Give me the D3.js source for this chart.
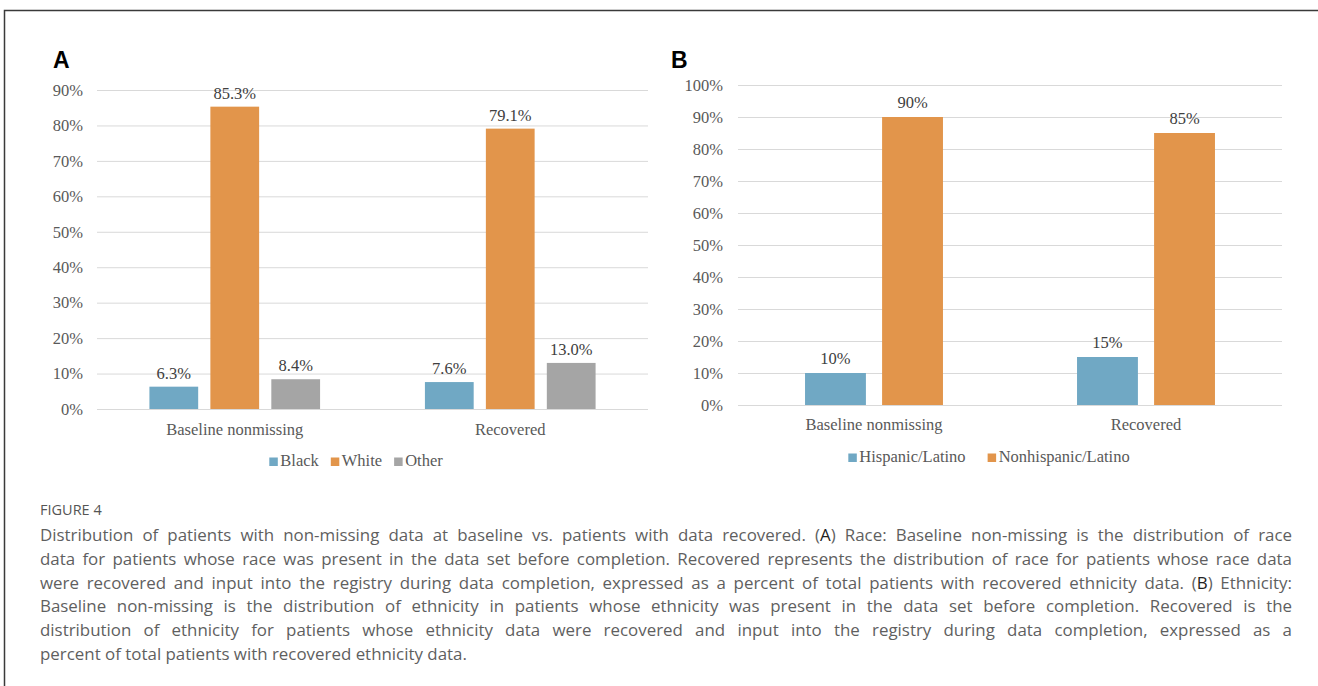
<!DOCTYPE html>
<html>
<head>
<meta charset="utf-8">
<script src="https://cdn.jsdelivr.net/npm/d3@7"></script>
<style>
  html, body { margin: 0; padding: 0; background: #fff; }
  svg { display: block; }
</style>
</head>
<body>
<svg id="fig" width="1318" height="686"></svg>
<script>
// ---- Panel A: race ----
const raceGroups = ["Baseline nonmissing", "Recovered"];
const raceSeries = ["Black", "White", "Other"];
const raceBlack = [0.063, 0.076];
const raceWhite = [0.853, 0.791];
const raceOther = [0.084, 0.130];
const raceTicks = [0, 0.1, 0.2, 0.3, 0.4, 0.5, 0.6, 0.7, 0.8, 0.9];

// ---- Panel B: ethnicity ----
const ethGroups = ["Baseline nonmissing", "Recovered"];
const ethSeries = ["Hispanic/Latino", "Nonhispanic/Latino"];
const ethHispanic = [0.10, 0.15];
const ethNonhispanic = [0.90, 0.85];
const ethTicks = [0, 0.1, 0.2, 0.3, 0.4, 0.5, 0.6, 0.7, 0.8, 0.9, 1.0];

const captionTitle = "FIGURE 4";
const captionLines = [
  "Distribution of patients with non-missing data at baseline vs. patients with data recovered. (|A|) Race: Baseline non-missing is the distribution of race",
  "data for patients whose race was present in the data set before completion. Recovered represents the distribution of race for patients whose race data",
  "were recovered and input into the registry during data completion, expressed as a percent of total patients with recovered ethnicity data. (|B|) Ethnicity:",
  "Baseline non-missing is the distribution of ethnicity in patients whose ethnicity was present in the data set before completion. Recovered is the",
  "distribution of ethnicity for patients whose ethnicity data were recovered and input into the registry during data completion, expressed as a",
  "percent of total patients with recovered ethnicity data."
];

const colors = { blue: "#70a8c4", orange: "#e2954b", gray: "#a5a5a5" };
const serif = "'Liberation Serif', 'Times New Roman', serif";
const sans = "'Liberation Sans', Arial, sans-serif";
const capFont = "'Open Sans', sans-serif";

const svg = d3.select("#fig");

// outer frame (top and left rules)
svg.append("path")
  .attr("d", "M4.5,686 V10.5 H1318")
  .attr("fill", "none").attr("stroke", "#3a3a3a").attr("stroke-width", 1.5);

function panel(opts) {
  const g = svg.append("g");
  const y = d3.scaleLinear().domain([0, opts.max]).range([opts.y0, opts.y1]);
  const x0 = d3.scaleBand().domain(opts.groups).range([opts.xl, opts.xr]);
  const x1 = d3.scaleBand().domain(opts.series).range([0, x0.bandwidth()])
    .paddingInner(opts.pi).paddingOuter(opts.po);
  const fmt = d3.format(".0%");

  // gridlines + y tick labels via axis
  const axis = d3.axisLeft(y).tickValues(opts.ticks).tickFormat(fmt)
    .tickSize(-(opts.xr - opts.xl)).tickPadding(opts.tickPad);
  const ag = g.append("g").attr("transform", `translate(${opts.xl},0)`).call(axis);
  ag.select(".domain").remove();
  ag.selectAll(".tick line").attr("stroke", "#d9d9d9").attr("stroke-width", 1);
  ag.selectAll(".tick text").attr("font-family", serif).attr("font-size", 16.5)
    .attr("fill", "#595959");

  // bars with value labels
  opts.series.forEach((s, si) => {
    const vals = opts.values[si];
    opts.groups.forEach((grp, gi) => {
      const v = vals[gi];
      const bx = x0(grp) + x1(s);
      g.append("rect")
        .attr("x", bx).attr("width", x1.bandwidth())
        .attr("y", y(v)).attr("height", y(0) - y(v))
        .attr("fill", opts.colors[si]);
      g.append("text")
        .attr("x", bx + x1.bandwidth() / 2).attr("y", y(v) - opts.labelGap)
        .attr("text-anchor", "middle")
        .attr("font-family", serif).attr("font-size", 16.5).attr("fill", "#404040")
        .text(d3.format(opts.labelFmt)(v));
    });
  });

  // category labels
  opts.groups.forEach(grp => {
    g.append("text")
      .attr("x", x0(grp) + x0.bandwidth() / 2).attr("y", opts.catY)
      .attr("text-anchor", "middle")
      .attr("font-family", serif).attr("font-size", 16.5).attr("fill", "#595959")
      .text(grp);
  });

  // legend
  const lg = g.append("g");
  let cx = 0;
  opts.series.forEach((s, si) => {
    lg.append("rect").attr("x", cx).attr("y", -8.5).attr("width", 8.5).attr("height", 8.5)
      .attr("fill", opts.colors[si]);
    const t = lg.append("text").attr("x", cx + 11).attr("y", 0)
      .attr("font-family", serif).attr("font-size", 16.5).attr("fill", "#595959")
      .text(s);
    cx += 11 + t.node().getComputedTextLength() + opts.legendGap;
  });
  const lw = cx - opts.legendGap;
  lg.attr("transform", `translate(${opts.legendCx - lw / 2},${opts.legendY})`);

  // panel letter
  g.append("text").attr("x", opts.letterX).attr("y", 68)
    .attr("font-family", sans).attr("font-weight", "bold").attr("font-size", 23)
    .attr("fill", "#000").text(opts.letter);
}

panel({
  letter: "A", letterX: 53,
  groups: raceGroups, series: raceSeries,
  values: [raceBlack, raceWhite, raceOther],
  colors: [colors.blue, colors.orange, colors.gray],
  ticks: raceTicks, max: 0.9, y0: 409, y1: 90,
  xl: 97, xr: 648, pi: 0.2, po: 0.86, tickPad: 14,
  labelGap: 8, labelFmt: ".1%",
  catY: 435, legendY: 466, legendCx: 356, legendGap: 12
});

panel({
  letter: "B", letterX: 671,
  groups: ethGroups, series: ethSeries,
  values: [ethHispanic, ethNonhispanic],
  colors: [colors.blue, colors.orange],
  ticks: ethTicks, max: 1.0, y0: 405, y1: 85,
  xl: 738, xr: 1282, pi: 0.21, po: 0.87, tickPad: 15,
  labelGap: 9, labelFmt: ".0%",
  catY: 430, legendY: 462, legendCx: 989, legendGap: 22
});

// caption
const cap = svg.append("g");
cap.append("text").attr("x", 40).attr("y", 515)
  .attr("font-family", capFont).attr("font-size", 14.5)
  .attr("fill", "#555").text(captionTitle);

const capLeft = 40, capRight = 1292;
captionLines.forEach((line, i) => {
  const t = cap.append("text").attr("x", capLeft).attr("y", 541 + i * 23.8)
    .attr("font-family", capFont).attr("font-size", 16.9)
    .attr("fill", "#5f5f5f");
  line.split("|").forEach((part, pi) => {
    t.append("tspan").attr("fill", pi % 2 === 1 ? "#222" : null).text(part);
  });
  // justify every line except the last
  if (i < captionLines.length - 1) {
    const natural = t.node().getComputedTextLength();
    const spaces = (line.match(/ /g) || []).length;
    t.attr("word-spacing", (capRight - capLeft - natural) / spaces);
  }
});
</script>
</body>
</html>
